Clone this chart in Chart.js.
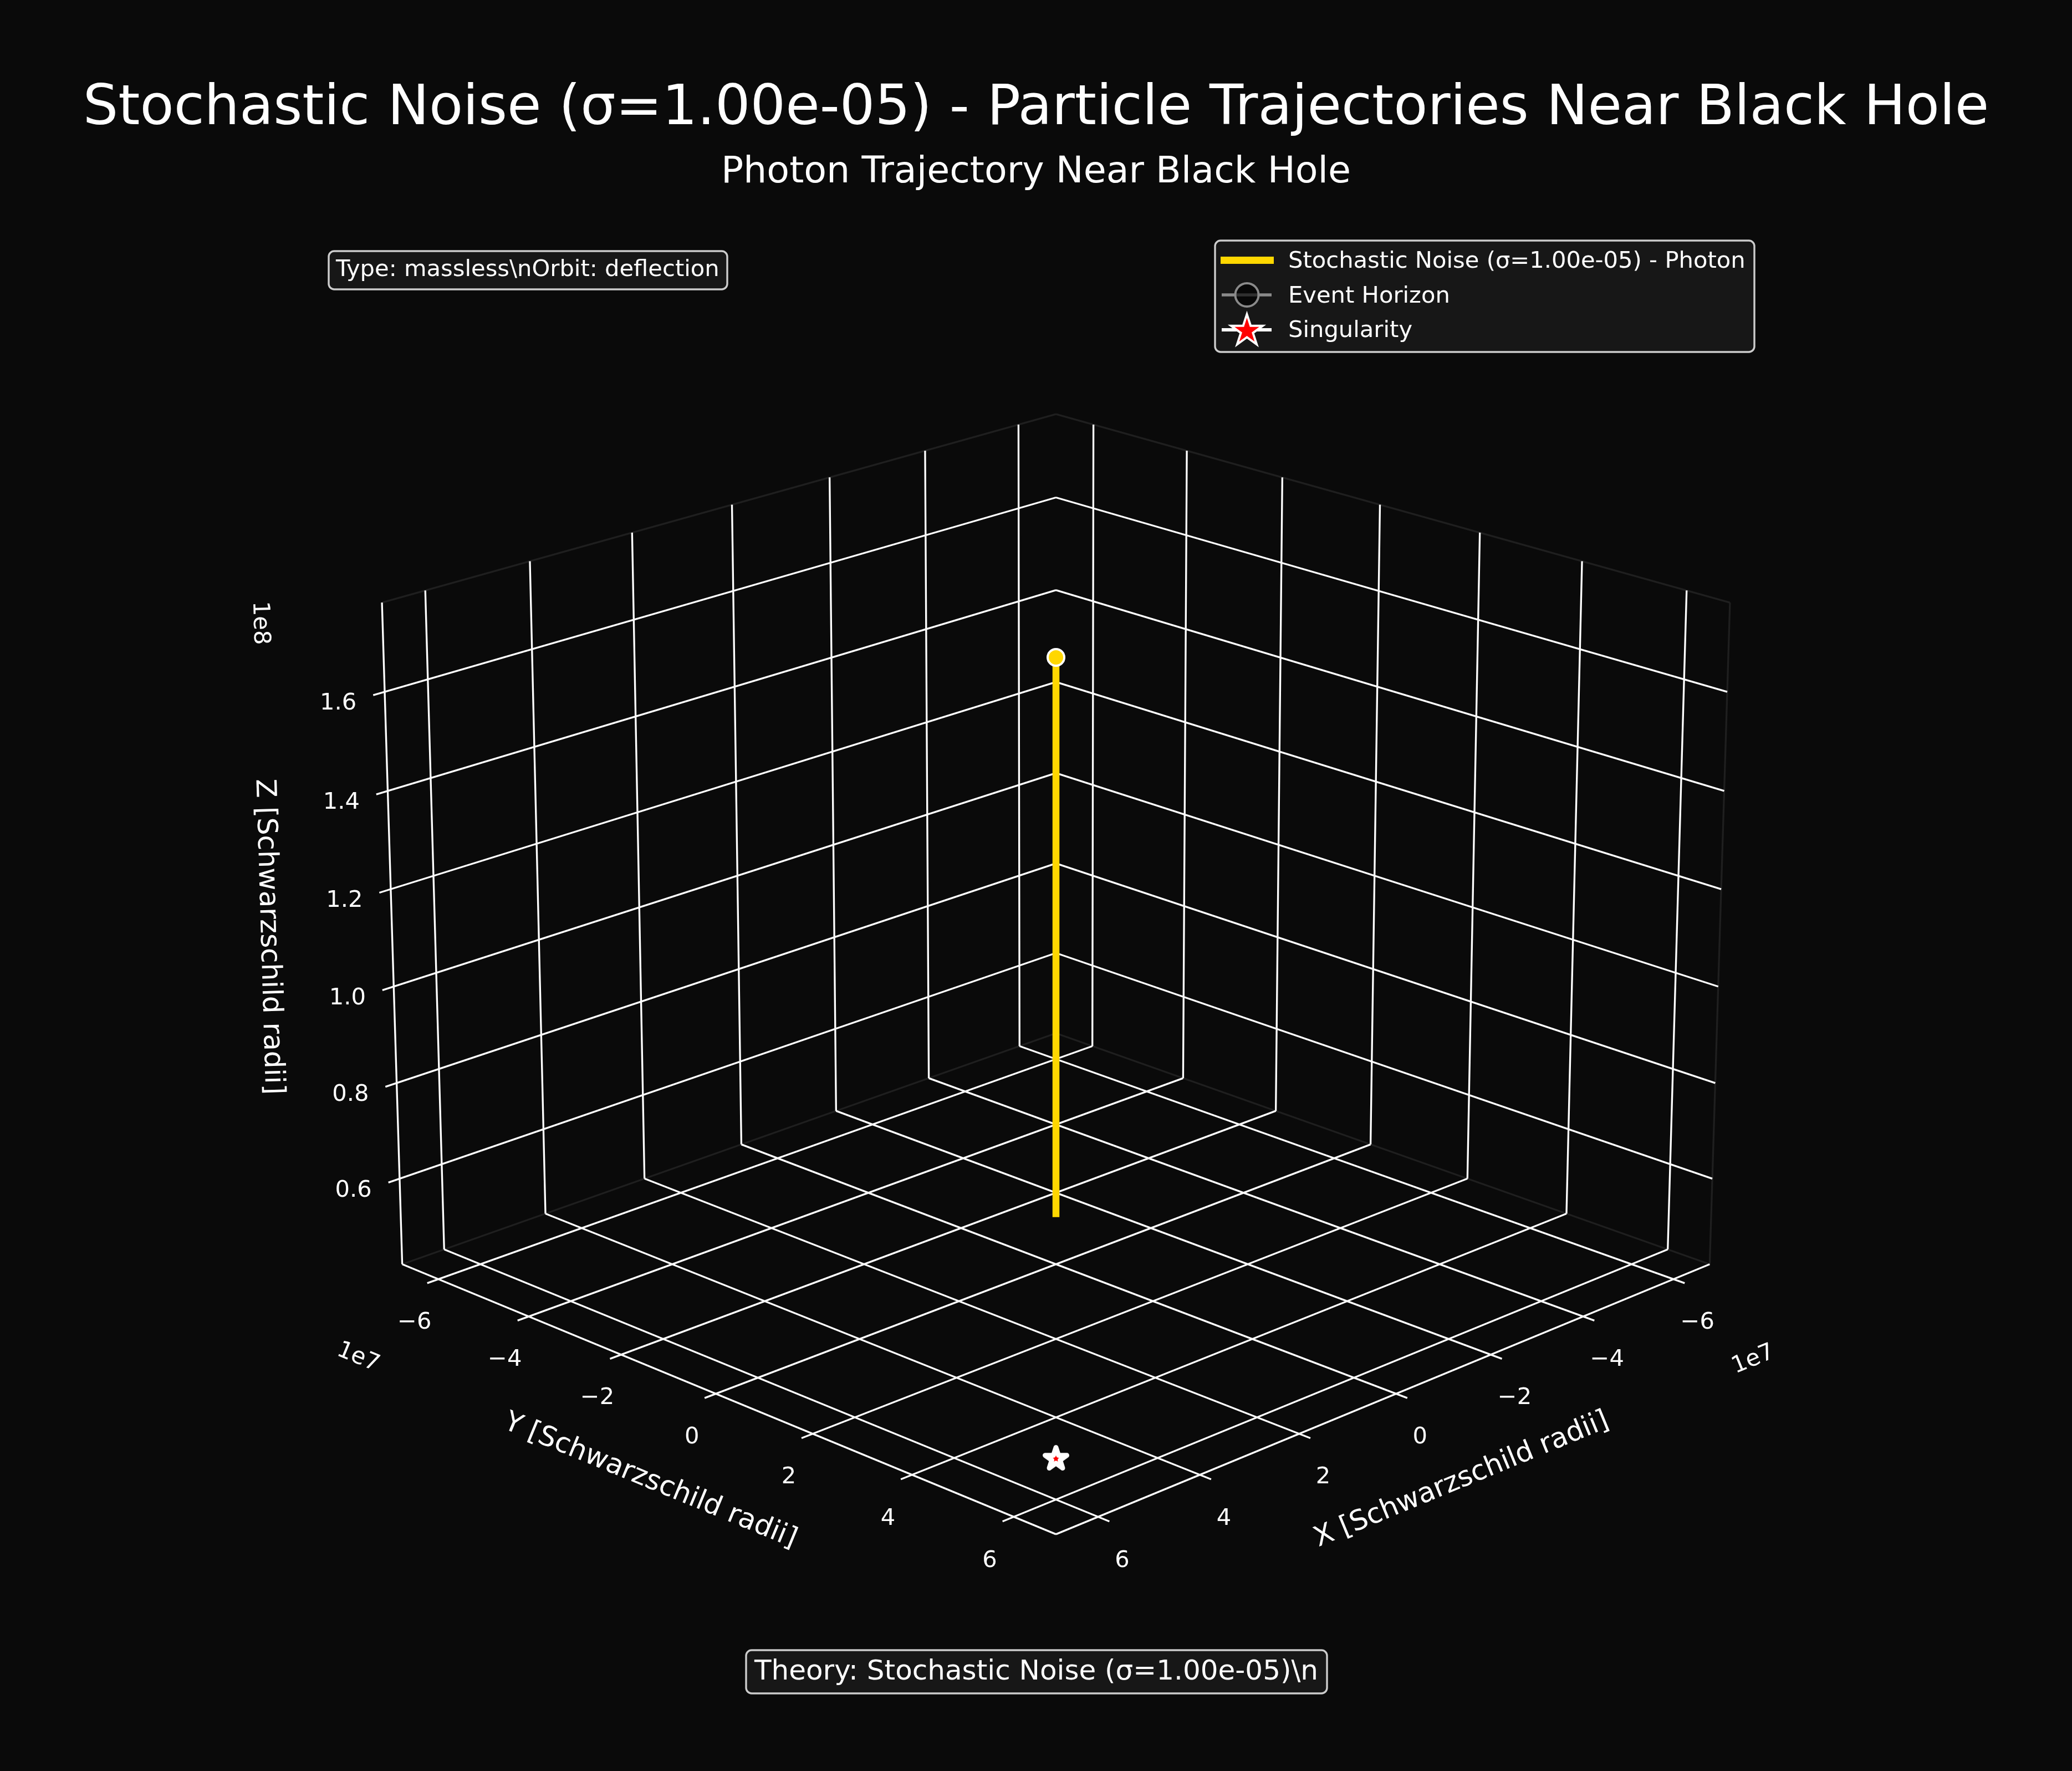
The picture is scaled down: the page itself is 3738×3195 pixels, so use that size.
<!DOCTYPE html>
<html>
<head>
<meta charset="utf-8">
<script src="https://cdn.jsdelivr.net/npm/chart.js@4/dist/chart.umd.min.js"></script>
<style>
html, body { margin: 0; padding: 0; background: #0a0a0a; }
#wrap { width: 3738px; height: 3195px; }
</style>
</head>
<body>
<div id="wrap"><canvas id="chart"></canvas></div>
<script>
// --- data ---
const xTicks = [-6, -4, -2, 0, 2, 4, 6];
const yTicks = [-6, -4, -2, 0, 2, 4, 6];
const zTicks = [0.6, 0.8, 1.0, 1.2, 1.4, 1.6];
const xLim = [-6.815, 6.815];   // 1e7
const yLim = [-6.815, 6.815];   // 1e7
const zLim = [0.4195, 1.7785];  // 1e8
const photonX = [0, 0];
const photonY = [0, 0];
const photonZ = [0.519, 1.669];
const photonEndX = [0];
const photonEndY = [0];
const photonEndZ = [1.669];
const singularityX = [0];
const singularityY = [0];
const singularityZ = [0];

const titleText = 'Stochastic Noise (σ=1.00e-05) - Particle Trajectories Near Black Hole';
const subtitleText = 'Photon Trajectory Near Black Hole';
const infoText = 'Type: massless\\nOrbit: deflection';
const theoryText = 'Theory: Stochastic Noise (σ=1.00e-05)\\n';
const legendLabels = ['Stochastic Noise (σ=1.00e-05) - Photon', 'Event Horizon', 'Singularity'];

const FONT = '"DejaVu Sans"';
const PANE_EDGE = '#1f1f1f';
const GOLD = '#ffd700';

// --- 3D projection (elev 20, azim 45, box 4:4:3, camera distance 10) ---
const ELEV = 20 * Math.PI / 180;
const HALF_XY = 0.5952;
const HALF_Z = 0.4464;
const PX_PER_UNIT = 14225;
const CENTER_X = 1905;
const CENTER_Y = 1693;

function project(x, y, z) {
    const a = x / xLim[1] * HALF_XY;
    const b = y / yLim[1] * HALF_XY;
    const c = ((z - zLim[0]) / (zLim[1] - zLim[0]) - 0.5) * 2 * HALF_Z;
    const depth = 10 - ((a + b) * Math.SQRT1_2 * Math.cos(ELEV) + c * Math.sin(ELEV));
    const u = (b - a) * Math.SQRT1_2;
    const v = c * Math.cos(ELEV) - (a + b) * Math.SQRT1_2 * Math.sin(ELEV);
    return { x: u / depth, y: v / depth };
}

function toPoints(xs, ys, zs) {
    return xs.map((x, i) => project(x, ys[i], zs[i]));
}

// several segments in one dataset, split by empty points
function segments(list) {
    const out = [];
    list.forEach(s => {
        out.push(project(...s[0]), project(...s[1]), { x: null, y: null });
    });
    return out;
}

const xMin = xLim[0], xMax = xLim[1], yMin = yLim[0], yMax = yLim[1], zMin = zLim[0], zMax = zLim[1];
const TICK_OUT = 0.216;  // 1e7

const gridLines = [];
xTicks.forEach(t => {
    gridLines.push([[t, yMin, zMin], [t, yMax + TICK_OUT, zMin]]);
    gridLines.push([[t, yMin, zMin], [t, yMin, zMax]]);
});
yTicks.forEach(t => {
    gridLines.push([[xMin, t, zMin], [xMax + TICK_OUT, t, zMin]]);
    gridLines.push([[xMin, t, zMin], [xMin, t, zMax]]);
});
zTicks.forEach(t => {
    gridLines.push([[xMin, yMin, t], [xMax + TICK_OUT, yMin, t]]);
    gridLines.push([[xMin, yMin, t], [xMin, yMax, t]]);
});

const axisLines = [
    [[xMax, yMin, zMin], [xMax, yMax, zMin]],
    [[xMin, yMax, zMin], [xMax, yMax, zMin]],
    [[xMax, yMin, zMin], [xMax, yMin, zMax]]
];

const paneEdges = [
    [[xMax, yMin, zMax], [xMin, yMin, zMax]],
    [[xMin, yMin, zMax], [xMin, yMax, zMax]],
    [[xMin, yMax, zMax], [xMin, yMax, zMin]],
    [[xMax, yMin, zMin], [xMin, yMin, zMin]],
    [[xMin, yMin, zMin], [xMin, yMax, zMin]]
];

// --- title sizes, the scales start below them ---
const titleSize = 100;
const subtitleSize = 66.67;
const titlePad = { top: 138, bottom: 4 };
const subtitlePad = { top: 10, bottom: 20 };
const headerHeight = titleSize * 1.2 + titlePad.top + titlePad.bottom
    + subtitleSize * 1.2 + subtitlePad.top + subtitlePad.bottom;
// chart.js keeps the chart area this far from the sides: radius + border of the biggest point
const AREA_INSET = 19;

// --- star marker ---
function starPath(ctx, cx, cy, r) {
    ctx.beginPath();
    for (let i = 0; i < 10; i++) {
        const rad = i % 2 === 0 ? r : r * 0.382;
        const ang = -Math.PI / 2 + i * Math.PI / 5;
        ctx.lineTo(cx + rad * Math.cos(ang), cy + rad * Math.sin(ang));
    }
    ctx.closePath();
}

const starImage = document.createElement('canvas');
starImage.width = 64;
starImage.height = 64;
(function () {
    const c = starImage.getContext('2d');
    starPath(c, 32, 29, 20.6);
    c.fillStyle = '#ff0000';
    c.fill();
    c.lineJoin = 'round';
    c.lineWidth = 8.8;
    c.strokeStyle = '#ffffff';
    c.stroke();
})();

// --- all text and the legend box ---
function drawBox(ctx, x0, y0, x1, y1) {
    ctx.beginPath();
    ctx.roundRect(x0, y0, x1 - x0, y1 - y0, 10);
    ctx.fillStyle = '#171717';
    ctx.fill();
    ctx.lineWidth = 3.4;
    ctx.strokeStyle = '#cccccc';
    ctx.stroke();
}

function rotatedText(ctx, text, x, y, deg, font) {
    ctx.save();
    ctx.translate(x, y);
    ctx.rotate(deg * Math.PI / 180);
    ctx.font = font;
    ctx.textAlign = 'center';
    ctx.textBaseline = 'middle';
    ctx.fillStyle = '#ffffff';
    ctx.fillText(text, 0, 0);
    ctx.restore();
}

const textPlugin = {
    id: 'textPlugin',
    afterDraw(chart) {
        const ctx = chart.ctx;
        const sx = chart.scales.x, sy = chart.scales.y;
        const px = p => ({ x: sx.getPixelForValue(p.x), y: sy.getPixelForValue(p.y) });
        const tickFont = `41.67px ${FONT}`;
        const labelFont = `50px ${FONT}`;

        const label = t => String(t).replace('-', '\u2212');
        yTicks.forEach(t => {
            const p = px(project(xMax + TICK_OUT, t, zMin));
            rotatedText(ctx, label(t), p.x - 23, p.y + 71, 0, tickFont);
        });
        xTicks.forEach(t => {
            const p = px(project(t, yMax + TICK_OUT, zMin));
            rotatedText(ctx, label(t), p.x + 23, p.y + 71, 0, tickFont);
        });
        zTicks.forEach(t => {
            const p = px(project(xMax + TICK_OUT, yMin, t));
            rotatedText(ctx, t.toFixed(1), p.x - 63, p.y + 15, 0, tickFont);
        });

        rotatedText(ctx, '1e7', 646, 2449, 22.4, tickFont);
        rotatedText(ctx, '1e7', 3163, 2453, -22.4, tickFont);
        rotatedText(ctx, '1e8', 469, 1124, 88.3, tickFont);
        rotatedText(ctx, 'Y [Schwarzschild radii]', 1173, 2672, 22.4, labelFont);
        rotatedText(ctx, 'X [Schwarzschild radii]', 2637, 2670, -22.4, labelFont);
        rotatedText(ctx, 'Z [Schwarzschild radii]', 484, 1690, 88.3, labelFont);

        // info boxes
        drawBox(ctx, 593, 453, 1312, 522);
        ctx.fillStyle = '#ffffff';
        ctx.textAlign = 'left';
        ctx.textBaseline = 'alphabetic';
        ctx.font = tickFont;
        ctx.fillText(infoText, 606, 498);
        drawBox(ctx, 1346, 2977, 2394, 3055);
        ctx.fillStyle = '#ffffff';
        ctx.font = `50px ${FONT}`;
        ctx.fillText(theoryText, 1361, 3030);

        // legend
        drawBox(ctx, 2192, 434, 3165, 635);
        ctx.fillStyle = '#ffffff';
        ctx.font = tickFont;
        [483, 546, 608].forEach((y, i) => ctx.fillText(legendLabels[i], 2324, y));
        ctx.fillStyle = GOLD;
        ctx.fillRect(2202, 463, 96, 13);
        ctx.strokeStyle = '#8a8a8a';
        ctx.lineWidth = 5.5;
        ctx.beginPath();
        ctx.moveTo(2204, 532);
        ctx.lineTo(2294, 532);
        ctx.stroke();
        ctx.beginPath();
        ctx.arc(2249.5, 532, 21, 0, Math.PI * 2);
        ctx.fillStyle = 'rgba(0, 0, 0, 0.65)';
        ctx.fill();
        ctx.lineWidth = 4;
        ctx.stroke();
        ctx.strokeStyle = '#ffffff';
        ctx.lineWidth = 6;
        ctx.beginPath();
        ctx.moveTo(2204, 595);
        ctx.lineTo(2294, 595);
        ctx.stroke();
        starPath(ctx, 2249.5, 597, 30);
        ctx.fillStyle = '#ff0000';
        ctx.fill();
        ctx.lineWidth = 4;
        ctx.lineJoin = 'miter';
        ctx.stroke();
    }
};

new Chart(document.getElementById('chart'), {
    type: 'scatter',
    data: {
        datasets: [
            {
                label: legendLabels[2],
                data: toPoints(singularityX, singularityY, singularityZ),
                pointStyle: starImage,
                pointRadius: 1,
                order: 1
            },
            {
                label: 'Photon position',
                data: toPoints(photonEndX, photonEndY, photonEndZ),
                pointRadius: 15,
                pointBorderWidth: 4,
                pointBackgroundColor: GOLD,
                pointBorderColor: '#ffffff',
                order: 2
            },
            {
                label: legendLabels[0],
                data: toPoints(photonX, photonY, photonZ),
                showLine: true,
                borderColor: GOLD,
                borderWidth: 12.5,
                pointRadius: 0,
                order: 3
            },
            {
                label: 'Axes',
                data: segments(axisLines),
                showLine: true,
                borderColor: '#ffffff',
                borderWidth: 3.33,
                pointRadius: 0,
                order: 4
            },
            {
                label: 'Grid',
                data: segments(gridLines),
                showLine: true,
                borderColor: '#ffffff',
                borderWidth: 3.33,
                pointRadius: 0,
                order: 5
            },
            {
                label: 'Panes',
                data: segments(paneEdges),
                showLine: true,
                borderColor: PANE_EDGE,
                borderWidth: 3.33,
                pointRadius: 0,
                order: 6
            }
        ]
    },
    options: {
        responsive: true,
        maintainAspectRatio: false,
        animation: false,
        devicePixelRatio: 1,
        layout: { padding: 0 },
        scales: {
            x: {
                type: 'linear',
                display: false,
                min: (AREA_INSET - CENTER_X) / PX_PER_UNIT,
                max: (3738 - AREA_INSET - CENTER_X) / PX_PER_UNIT
            },
            y: {
                type: 'linear',
                display: false,
                min: (CENTER_Y - (3195 - AREA_INSET)) / PX_PER_UNIT,
                max: (CENTER_Y - headerHeight) / PX_PER_UNIT
            }
        },
        plugins: {
            legend: { display: false },
            tooltip: { enabled: false },
            title: {
                display: true,
                text: titleText,
                color: '#ffffff',
                font: { family: FONT, size: titleSize, weight: 'normal', lineHeight: 1.2 },
                padding: titlePad
            },
            subtitle: {
                display: true,
                text: subtitleText,
                color: '#ffffff',
                font: { family: FONT, size: subtitleSize, weight: 'normal', lineHeight: 1.2 },
                padding: subtitlePad
            }
        }
    },
    plugins: [textPlugin]
});
</script>
</body>
</html>
